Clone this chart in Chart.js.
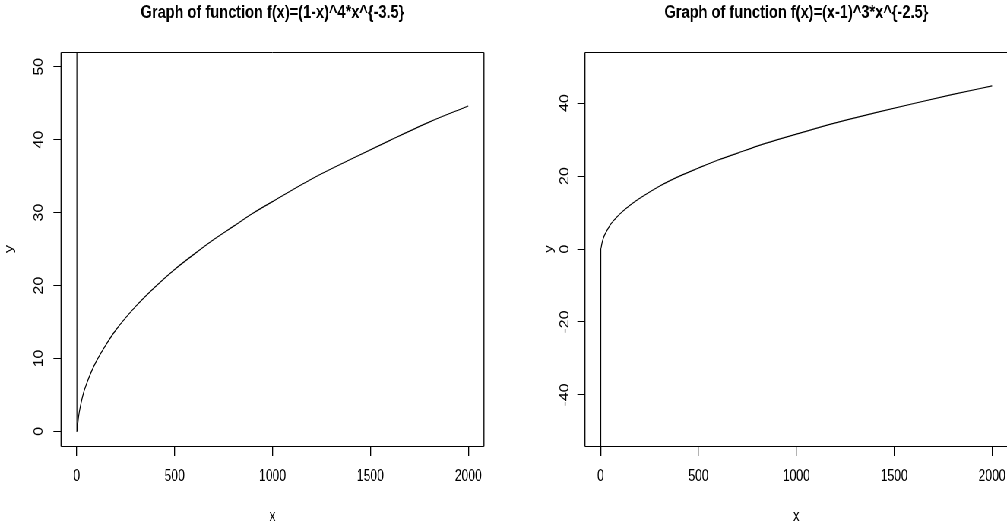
<!DOCTYPE html>
<html>
<head>
<meta charset="utf-8">
<title>Graph of function</title>
<script src="https://cdn.jsdelivr.net/npm/chart.js@4.4.1/dist/chart.umd.min.js"></script>
<style>
  html, body { margin: 0; padding: 0; background: #fff; overflow: hidden; }
  /* the picture is horizontally compressed, so draw wide and squeeze it */
  #figure { position: absolute; left: 0; top: 0; width: 1400px; height: 530px;
            transform: scaleX(0.76); transform-origin: 0 0; }
  #figure canvas { position: absolute; top: 0; }
</style>
</head>
<body>
<div id="figure">
  <canvas id="left" width="662" height="530" style="left:0"></canvas>
  <canvas id="right" width="720" height="530" style="left:662px"></canvas>
</div>
<script>
//-------------------- DATA --------------------
const xValues = [0.05, 1, 2, 5, 10, 20, 35, 50, 75, 100, 150, 200, 300, 400, 500,
                 600, 700, 800, 900, 1000, 1200, 1400, 1600, 1800, 2000];
// f(x)=(1-x)^4*x^{-3.5}
const leftY = [400, 0, 0.1, 0.9, 2.1, 3.6, 5.3, 6.5, 8.2, 9.6, 11.9, 13.9, 17.1, 19.8, 22.2,
               24.3, 26.3, 28.1, 29.9, 31.5, 34.6, 37.3, 39.9, 42.4, 44.6];
// f(x)=(x-1)^3*x^{-2.5}
const rightY = [-400, 0, 0.2, 1.1, 2.3, 3.8, 5.3, 6.7, 8.3, 9.7, 12.0, 13.9, 17.2, 19.9, 22.2,
                24.4, 26.3, 28.2, 29.9, 31.5, 34.6, 37.3, 39.9, 42.4, 44.7];
const xTicks = [0, 500, 1000, 1500, 2000];
const leftYTicks = [0, 10, 20, 30, 40, 50];
const rightYTicks = [-40, -20, 0, 20, 40];

const FONT = '"Liberation Sans", Arial, Helvetica, sans-serif';
Chart.defaults.font.family = FONT;
Chart.defaults.color = '#000';

//-------------------- BOX + ROTATED Y LABELS --------------------
const frame = {
  id: 'frame',
  afterDraw(chart, args, opts) {
    const {ctx, chartArea: a} = chart;
    const ys = chart.scales.y;
    const top = Math.round(a.top) + 0.5, bottom = Math.round(a.bottom) + 0.5;
    ctx.save();
    ctx.strokeStyle = '#000';
    ctx.lineWidth = 1;
    ctx.beginPath();
    ctx.moveTo(a.left, top); ctx.lineTo(a.right, top);
    ctx.moveTo(a.left, bottom); ctx.lineTo(a.right, bottom);
    ctx.stroke();
    ctx.lineWidth = 1.3;
    ctx.beginPath();
    ctx.moveTo(a.left, top); ctx.lineTo(a.left, bottom);
    ctx.moveTo(a.right, top); ctx.lineTo(a.right, bottom);
    ctx.stroke();

    ctx.fillStyle = '#000';
    ctx.font = '16px ' + FONT;
    ctx.textAlign = 'center';
    ctx.textBaseline = 'alphabetic';
    ys.ticks.forEach(t => {
      ctx.save();
      ctx.translate(a.left - opts.labelGap, ys.getPixelForValue(t.value));
      ctx.rotate(-Math.PI / 2);
      ctx.fillText(String(t.value), 0, 0);
      ctx.restore();
    });
    ctx.restore();
  }
};

//-------------------- CHARTS --------------------
function makeChart(id, title, yValues, yMin, yMax, yTicks, g) {
  return new Chart(document.getElementById(id), {
    type: 'line',
    data: {
      datasets: [{
        data: xValues.map((x, i) => ({x: x, y: yValues[i]})),
        borderColor: '#000',
        borderWidth: 1.2,
        pointRadius: 0,
        fill: false,
        cubicInterpolationMode: 'monotone'
      }]
    },
    options: {
      responsive: false,
      animation: false,
      events: [],
      layout: {padding: {left: 0, right: g.padRight, top: 0, bottom: 0}},
      scales: {
        x: {
          type: 'linear',
          min: -80, max: 2080,
          afterBuildTicks: s => { s.ticks = xTicks.map(v => ({value: v})); },
          afterFit: s => { s.height = 84; },
          grid: {drawOnChartArea: false, drawTicks: true, tickLength: 10, color: '#000', lineWidth: 1.3},
          border: {display: false},
          ticks: {padding: 10.9, maxRotation: 0, autoSkip: false, font: {size: 16}, color: '#000',
                  callback: v => String(v)},
          title: {display: true, text: 'x', font: {size: 16}, color: '#000', padding: {top: 0, bottom: 4.2}}
        },
        y: {
          type: 'linear',
          min: yMin, max: yMax,
          afterBuildTicks: s => { s.ticks = yTicks.map(v => ({value: v})); },
          afterFit: s => { s.width = g.boxLeft; },
          grid: {drawOnChartArea: false, drawTicks: true, tickLength: 10, color: '#000', lineWidth: 1},
          border: {display: false},
          ticks: {display: false},
          title: {display: true, text: 'y', font: {size: 16}, color: '#000', padding: {top: g.yTitlePad, bottom: 0}}
        }
      },
      plugins: {
        legend: {display: false},
        tooltip: {enabled: false},
        title: {
          display: true,
          text: title,
          fullSize: false,
          color: '#000',
          font: {size: 19.2, weight: 'bold'},
          padding: {top: 0.8, bottom: 28.2}
        },
        frame: {labelGap: g.labelGap}
      }
    },
    plugins: [frame]
  });
}

makeChart('left', 'Graph of function f(x)=(1-x)^4*x^{-3.5}', leftY, -2, 52, leftYTicks,
          {boxLeft: 80.3, padRight: 25.2, yTitlePad: 3.3, labelGap: 24.6});
makeChart('right', 'Graph of function f(x)=(x-1)^3*x^{-2.5}', rightY, -54, 54, rightYTicks,
          {boxLeft: 107.7, padRight: 56, yTitlePad: 51.1, labelGap: 22.1});
</script>
</body>
</html>
